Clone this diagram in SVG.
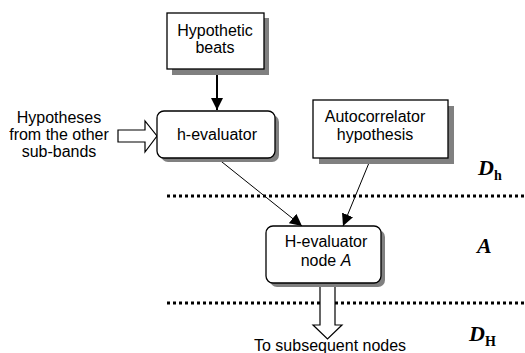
<svg xmlns="http://www.w3.org/2000/svg" width="525" height="353" viewBox="0 0 525 353">
<style>
text{font-family:"Liberation Sans",Arial,sans-serif;font-size:16px;fill:#000}
.t{text-anchor:middle}
.box{fill:#fff;stroke:#000;stroke-width:1.3}
.sh{fill:#808080}
.ln{stroke:#000;stroke-width:1;fill:none}
.dot{stroke:#000;stroke-width:3;stroke-dasharray:3 3;fill:none}
.hol{fill:#fff;stroke:#000;stroke-width:1.2}
.m{font-family:"Liberation Serif","Times New Roman",serif;font-weight:bold;font-style:italic;font-size:22px}
.s{font-family:"Liberation Serif","Times New Roman",serif;font-weight:bold;font-style:normal;font-size:14px}
</style>
<defs>
<marker id="ah" viewBox="0 0 12 12" refX="12" refY="6" markerWidth="12" markerHeight="12" markerUnits="userSpaceOnUse" orient="auto">
<path d="M0,0 L12,6 L0,12 Z" fill="#000"/>
</marker>
</defs>
<rect width="525" height="353" fill="#fff"/>
<g id="separators">
<line class="dot" x1="167" y1="196" x2="525" y2="196"/>
<line class="dot" x1="167" y1="303" x2="525" y2="303"/>
</g>
<g id="connectors">
<line x1="217" y1="69" x2="217" y2="110" stroke="#000" stroke-width="2" marker-end="url(#ah)"/>
<line class="ln" x1="217" y1="158" x2="302" y2="226" marker-end="url(#ah)"/>
<line class="ln" x1="371" y1="158" x2="343" y2="226" marker-end="url(#ah)"/>
<path class="hol" d="M118,130 H145 V121 L157,136 L145,152 V142 H118 Z"/>
<path class="hol" d="M320,283 V325 H313 L327.5,339 L342,325 H335 V283"/>
</g>
<g id="hypothetic-beats">
<rect class="sh" x="172" y="18" width="97" height="57"/>
<rect class="box" x="167" y="13" width="97" height="56"/>
<text class="t" x="215" y="35.5">Hypothetic</text>
<text class="t" x="215" y="52.5">beats</text>
</g>
<g id="h-evaluator">
<rect class="sh" x="161" y="115" width="118" height="47" rx="7"/>
<rect class="box" x="157" y="111" width="118" height="47" rx="7"/>
<text class="t" x="217" y="140">h-evaluator</text>
</g>
<g id="autocorrelator">
<rect class="sh" x="319" y="106" width="135" height="58"/>
<rect class="box" x="313" y="100" width="135" height="58"/>
<text class="t" x="375" y="122">Autocorrelator</text>
<text class="t" x="375" y="140">hypothesis</text>
</g>
<g id="H-evaluator">
<rect class="sh" x="270" y="230" width="115" height="57" rx="7"/>
<rect class="box" x="266" y="226" width="115" height="57" rx="7"/>
<text class="t" x="326" y="247">H-evaluator</text>
<text class="t" x="326" y="266">node <tspan font-style="italic">A</tspan></text>
</g>
<g id="other-subbands">
<text class="t" x="59" y="123">Hypotheses</text>
<text class="t" x="59" y="140">from the other</text>
<text class="t" x="59" y="157">sub-bands</text>
</g>
<g id="subsequent">
<text x="254" y="351">To subsequent nodes</text>
</g>
<g id="levels">
<text class="m" x="478" y="175">D<tspan class="s" dy="5">h</tspan></text>
<text class="m" x="477" y="253">A</text>
<text class="m" x="469" y="341">D<tspan class="s" dy="5">H</tspan></text>
</g>
</svg>
